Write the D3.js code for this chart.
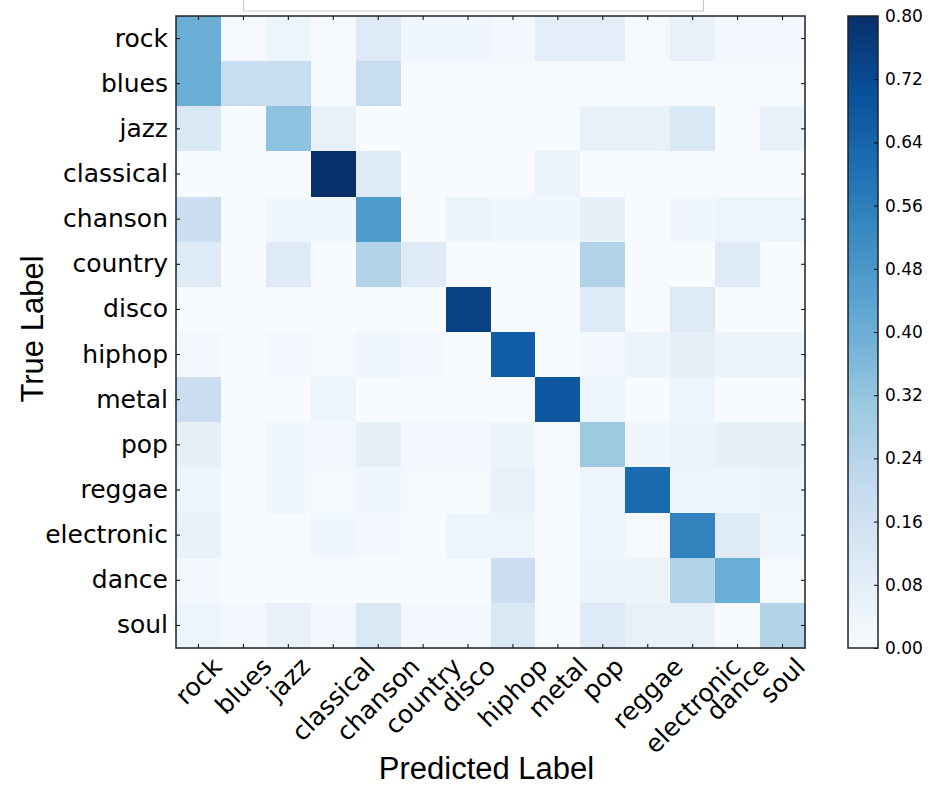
<!DOCTYPE html>
<html>
<head>
<meta charset="utf-8">
<script src="https://cdn.jsdelivr.net/npm/d3@7"></script>
<style>
  html, body { margin: 0; padding: 0; background: #ffffff; }
  svg { display: block; }
</style>
</head>
<body>
<svg id="chart" width="930" height="786"></svg>
<script>
// ---------- DATA ----------
const categories = ["rock", "blues", "jazz", "classical", "chanson", "country", "disco",
                    "hiphop", "metal", "pop", "reggae", "electronic", "dance", "soul"];

// one row per true label, columns follow `categories` (predicted label)
const rowRock       = [0.40, 0.01, 0.04, 0.01, 0.10, 0.03, 0.03, 0.02, 0.08, 0.08, 0.01, 0.06, 0.02, 0.02];
const rowBlues      = [0.40, 0.19, 0.19, 0.01, 0.19, 0.01, 0.01, 0.01, 0.01, 0.01, 0.01, 0.01, 0.01, 0.01];
const rowJazz       = [0.12, 0.00, 0.33, 0.06, 0.00, 0.00, 0.00, 0.00, 0.00, 0.06, 0.06, 0.12, 0.00, 0.06];
const rowClassical  = [0.00, 0.00, 0.00, 0.80, 0.10, 0.00, 0.00, 0.00, 0.05, 0.00, 0.00, 0.00, 0.00, 0.00];
const rowChanson    = [0.18, 0.00, 0.03, 0.03, 0.47, 0.00, 0.05, 0.03, 0.03, 0.07, 0.00, 0.03, 0.04, 0.04];
const rowCountry    = [0.10, 0.00, 0.10, 0.00, 0.25, 0.10, 0.00, 0.00, 0.00, 0.25, 0.00, 0.00, 0.10, 0.00];
const rowDisco      = [0.00, 0.00, 0.00, 0.00, 0.00, 0.00, 0.75, 0.00, 0.00, 0.10, 0.00, 0.10, 0.00, 0.00];
const rowHiphop     = [0.02, 0.00, 0.02, 0.00, 0.03, 0.02, 0.00, 0.66, 0.00, 0.02, 0.05, 0.07, 0.05, 0.05];
const rowMetal      = [0.18, 0.00, 0.00, 0.04, 0.00, 0.00, 0.00, 0.00, 0.68, 0.04, 0.00, 0.04, 0.00, 0.00];
const rowPop        = [0.07, 0.00, 0.03, 0.02, 0.07, 0.02, 0.02, 0.05, 0.01, 0.30, 0.03, 0.05, 0.07, 0.07];
const rowReggae     = [0.04, 0.00, 0.03, 0.01, 0.03, 0.01, 0.01, 0.06, 0.01, 0.04, 0.62, 0.04, 0.04, 0.05];
const rowElectronic = [0.06, 0.00, 0.00, 0.03, 0.02, 0.00, 0.04, 0.04, 0.00, 0.04, 0.01, 0.55, 0.10, 0.03];
const rowDance      = [0.02, 0.00, 0.00, 0.00, 0.00, 0.00, 0.00, 0.18, 0.00, 0.05, 0.05, 0.25, 0.40, 0.01];
const rowSoul       = [0.04, 0.02, 0.06, 0.02, 0.12, 0.02, 0.02, 0.12, 0.00, 0.10, 0.06, 0.06, 0.00, 0.25];

const matrixRows = [rowRock, rowBlues, rowJazz, rowClassical, rowChanson, rowCountry, rowDisco,
                    rowHiphop, rowMetal, rowPop, rowReggae, rowElectronic, rowDance, rowSoul];

const colorbarTicks = [0.00, 0.08, 0.16, 0.24, 0.32, 0.40, 0.48, 0.56, 0.64, 0.72, 0.80];
const colorDomainMax = 0.80;
const xTitle = "Predicted Label";
const yTitle = "True Label";

// ---------- LAYOUT ----------
const svg = d3.select("#chart");
const plot = { left: 176, right: 805, top: 16, bottom: 648 };
const cbar = { left: 848, right: 878, top: 16, bottom: 648 };
const tickFont = "'DejaVu Sans', sans-serif";
const titleFont = "'Liberation Sans', Arial, sans-serif";
const tickFontSize = 25;

// matplotlib "Blues" colormap (9 anchor colours, linear segments)
const bluesAnchors = ["#f7fbff", "#deebf7", "#c6dbef", "#9ecae1", "#6baed6",
                      "#4292c6", "#2171b5", "#08519c", "#08306b"];
const color = d3.scaleLinear()
  .domain(bluesAnchors.map((_, i) => i * colorDomainMax / (bluesAnchors.length - 1)))
  .range(bluesAnchors)
  .interpolate(d3.interpolateRgb)
  .clamp(true);

const x = d3.scaleBand().domain(categories).range([plot.left, plot.right]).padding(0);
const y = d3.scaleBand().domain(categories).range([plot.top, plot.bottom]).padding(0);

// clipped box at the very top (partially visible legend/title frame)
svg.append("rect")
  .attr("x", 243.5).attr("y", -20).attr("width", 460).attr("height", 31)
  .attr("fill", "#ffffff").attr("stroke", "#c8c8c8").attr("stroke-width", 1);

// ---------- CELLS ----------
const cells = [];
matrixRows.forEach((row, i) => row.forEach((v, j) => cells.push({ t: categories[i], p: categories[j], v })));

svg.append("g").selectAll("rect").data(cells).join("rect")
  .attr("x", d => x(d.p))
  .attr("y", d => y(d.t))
  .attr("width", x.bandwidth() + 0.5)
  .attr("height", y.bandwidth() + 0.5)
  .attr("fill", d => color(d.v))
  .attr("shape-rendering", "crispEdges");

// ---------- AXES (inward ticks on all sides) ----------
const tickLen = 4;
const axisStyle = g => {
  g.select(".domain").remove();
  g.selectAll(".tick line").attr("stroke", "#000").attr("stroke-width", 1);
};

const leftAxis = svg.append("g").attr("transform", `translate(${plot.left},0)`)
  .call(d3.axisLeft(y).tickSize(-tickLen).tickPadding(8))
  .call(axisStyle);
leftAxis.selectAll("text")
  .attr("font-family", tickFont).attr("font-size", tickFontSize).attr("fill", "#000");

svg.append("g").attr("transform", `translate(${plot.right},0)`)
  .call(d3.axisRight(y).tickSize(-tickLen).tickFormat(""))
  .call(axisStyle);

svg.append("g").attr("transform", `translate(0,${plot.top})`)
  .call(d3.axisTop(x).tickSize(-tickLen).tickFormat(""))
  .call(axisStyle);

const bottomAxis = svg.append("g").attr("transform", `translate(0,${plot.bottom})`)
  .call(d3.axisBottom(x).tickSize(-tickLen).tickFormat(""))
  .call(axisStyle);

// rotated x tick labels: 45 deg, rotated bounding box centred on tick, top aligned
const labelTop = 652 - plot.bottom;
const lineH = 29;
bottomAxis.selectAll(".tick").each(function(d) {
  const t = d3.select(this).append("text")
    .text(d)
    .attr("font-family", tickFont).attr("font-size", tickFontSize).attr("fill", "#000")
    .attr("text-anchor", "middle")
    .attr("dominant-baseline", "central");
  const w = t.node().getComputedTextLength();
  const cy = labelTop + (w + lineH) / (2 * Math.SQRT2);
  t.attr("transform", `translate(0,${cy}) rotate(-45)`);
});

// frame
svg.append("rect")
  .attr("x", plot.left).attr("y", plot.top)
  .attr("width", plot.right - plot.left).attr("height", plot.bottom - plot.top)
  .attr("fill", "none").attr("stroke", "#222").attr("stroke-width", 1.5);

// axis titles
svg.append("text")
  .attr("x", (plot.left + plot.right) / 2 - 4).attr("y", 779)
  .attr("text-anchor", "middle")
  .attr("font-family", titleFont).attr("font-size", 31).attr("fill", "#000")
  .text(xTitle);

svg.append("text")
  .attr("transform", `translate(43,${(plot.top + plot.bottom) / 2 - 3}) rotate(-90)`)
  .attr("text-anchor", "middle")
  .attr("font-family", titleFont).attr("font-size", 31).attr("fill", "#000")
  .text(yTitle);

// ---------- COLORBAR ----------
const cScale = d3.scaleLinear().domain([0, colorDomainMax]).range([cbar.bottom, cbar.top]);
const defs = svg.append("defs");
const grad = defs.append("linearGradient").attr("id", "bluesGrad")
  .attr("x1", 0).attr("y1", 1).attr("x2", 0).attr("y2", 0);
bluesAnchors.forEach((c, i) => {
  grad.append("stop").attr("offset", i / (bluesAnchors.length - 1)).attr("stop-color", c);
});
svg.append("rect")
  .attr("x", cbar.left).attr("y", cbar.top)
  .attr("width", cbar.right - cbar.left).attr("height", cbar.bottom - cbar.top)
  .attr("fill", "url(#bluesGrad)");

const cAxis = svg.append("g").attr("transform", `translate(${cbar.right},0)`)
  .call(d3.axisRight(cScale).tickValues(colorbarTicks).tickSize(-tickLen).tickPadding(7)
        .tickFormat(d3.format(".2f")))
  .call(axisStyle);
cAxis.selectAll("text")
  .attr("font-family", tickFont).attr("font-size", 17).attr("fill", "#000");

svg.append("rect")
  .attr("x", cbar.left).attr("y", cbar.top)
  .attr("width", cbar.right - cbar.left).attr("height", cbar.bottom - cbar.top)
  .attr("fill", "none").attr("stroke", "#222").attr("stroke-width", 1.5);
</script>
</body>
</html>
